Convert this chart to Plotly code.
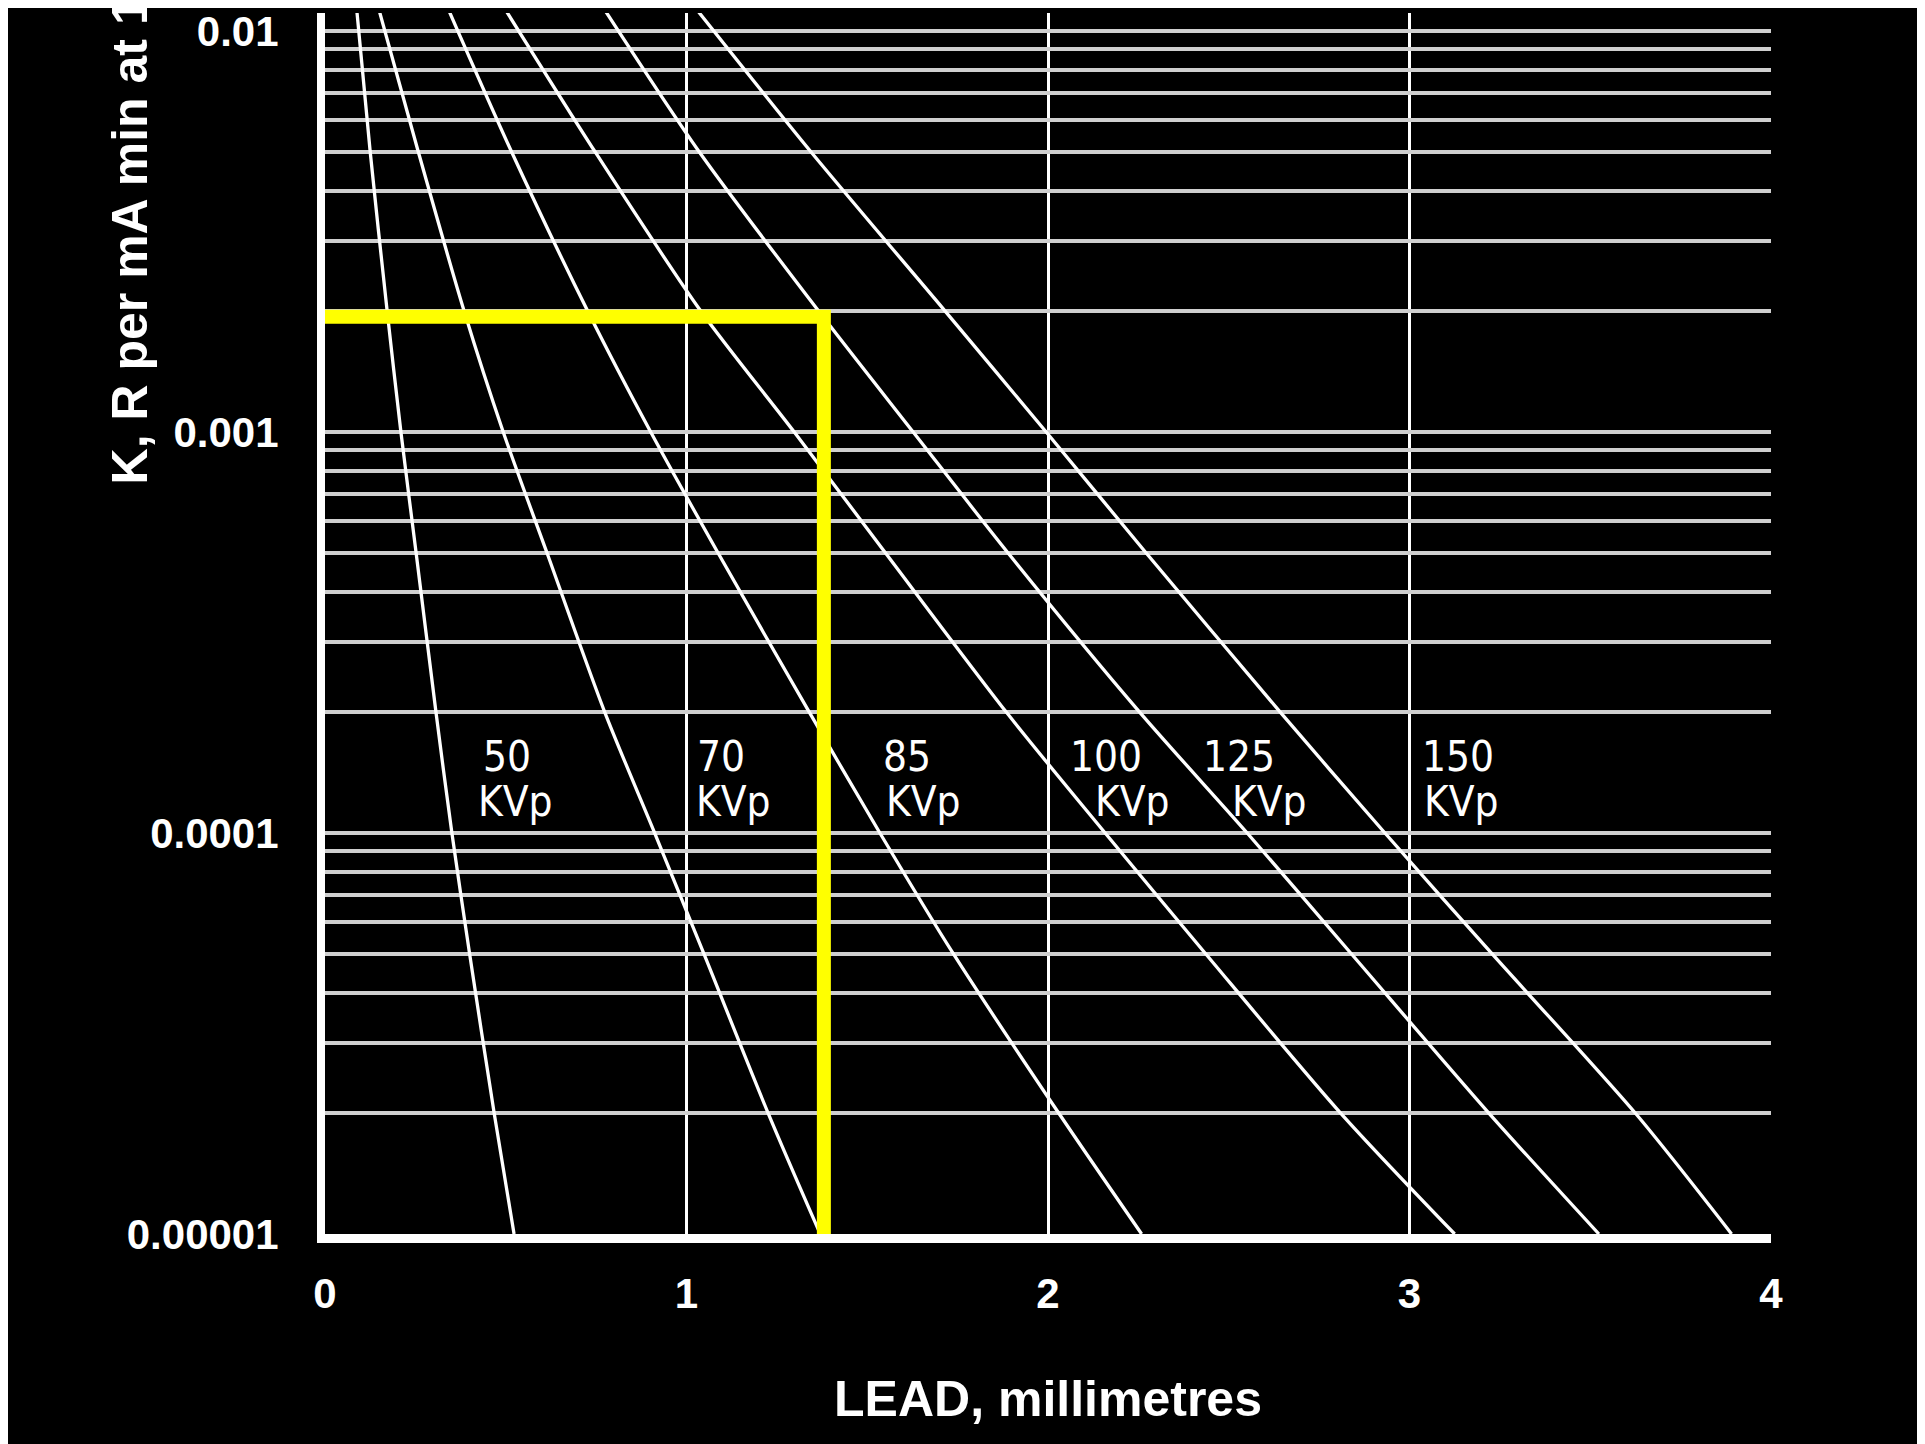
import math
import plotly.graph_objects as go

# ---- data ----
K_levels = [0.0115, 0.005, 0.002, 0.001, 0.0005, 0.0002, 0.0001, 0.00005, 0.00002, 0.00001]
lead_50 = [0.087, 0.125, 0.172, 0.210, 0.252, 0.307, 0.351, 0.400, 0.468, 0.523]
lead_70 = [0.147, 0.258, 0.385, 0.493, 0.614, 0.774, 0.912, 1.048, 1.226, 1.370]
lead_85 = [0.338, 0.516, 0.727, 0.901, 1.087, 1.340, 1.535, 1.738, 2.030, 2.259]
lead_100 = [0.494, 0.747, 1.040, 1.298, 1.550, 1.885, 2.158, 2.436, 2.810, 3.125]
lead_125 = [0.768, 1.035, 1.366, 1.627, 1.889, 2.254, 2.551, 2.839, 3.220, 3.524]
lead_150 = [1.022, 1.344, 1.716, 1.995, 2.271, 2.643, 2.932, 3.228, 3.625, 3.891]

kvp_names = ["50", "70", "85", "100", "125", "150"]
label_num_x = [0.432, 1.023, 1.539, 2.055, 2.423, 3.030]
label_kvp_x = [0.418, 1.020, 1.546, 2.124, 2.504, 3.034]
label_num_K = 1.556e-4
label_kvp_K = 1.197e-4

reading_x = [0.0, 1.38, 1.38]
reading_K = [0.00194, 0.00194, 0.00001]

x_tick_vals = [0, 1, 2, 3, 4]
y_major_vals = [0.00001, 0.0001, 0.001, 0.01]
y_major_text = ["0.00001", "0.0001", "0.001", "0.01"]

x_title = "LEAD, millimetres"
y_title = "K, R per mA min at 1 metre"

# ---- figure ----
curves = [lead_50, lead_70, lead_85, lead_100, lead_125, lead_150]

fig = go.Figure()
for name, xs in zip(kvp_names, curves):
    fig.add_trace(go.Scatter(
        x=xs, y=K_levels, mode="lines", name=name + " KVp",
        line=dict(color="white", width=3.3, shape="spline", smoothing=0.8),
        showlegend=False, hoverinfo="skip"))

fig.add_trace(go.Scatter(
    x=reading_x, y=reading_K, mode="lines",
    line=dict(color="#ffff00", width=14), showlegend=False, hoverinfo="skip"))

# gridline positions: every 1..9 x decade (labels only on the decades)
grid_vals = []
grid_text = []
for e in (-5, -4, -3):
    for m in range(1, 10):
        v = m * 10.0 ** e
        grid_vals.append(v)
        grid_text.append(y_major_text[y_major_vals.index(10.0 ** e)] if m == 1 else "")
grid_vals.append(0.01)
grid_text.append("0.01")

label_font = dict(family="DejaVu Sans Condensed, DejaVu Sans", size=42, color="white")
annotations = []
for name, xn, xk in zip(kvp_names, label_num_x, label_kvp_x):
    annotations.append(dict(x=xn, y=math.log10(label_num_K), xref="x", yref="y",
                            text=name, showarrow=False, xanchor="left", yanchor="middle",
                            font=label_font))
    annotations.append(dict(x=xk, y=math.log10(label_kvp_K), xref="x", yref="y",
                            text="KVp", showarrow=False, xanchor="left", yanchor="middle",
                            font=label_font))

annotations.append(dict(x=-0.1349, y=0.6126, xref="paper", yref="paper",
                        text=y_title, textangle=-90, showarrow=False,
                        xanchor="center", yanchor="bottom",
                        font=dict(family="Liberation Sans, Arial", size=50, color="white", weight="bold")))

tick_font = dict(family="Liberation Sans, Arial", size=42, color="white", weight="bold")

fig.update_layout(
    width=1925, height=1444,
    paper_bgcolor="black", plot_bgcolor="black",
    margin=dict(l=317, r=162, t=0, b=218),
    annotations=annotations,
    xaxis=dict(
        range=[0, 4], tickvals=x_tick_vals, ticktext=[str(v) for v in x_tick_vals],
        showgrid=True, gridcolor="white", gridwidth=2.5,
        showline=True, linecolor="white", linewidth=9,
        ticks="", ticklabelstandoff=15, zeroline=False,
        ticklabeloverflow="allow",
        tickfont=tick_font,
        title=dict(text=x_title, standoff=68,
                   font=dict(family="Liberation Sans, Arial", size=50, color="white", weight="bold")),
    ),
    yaxis=dict(
        type="log", range=[-5, -1.955],
        tickvals=grid_vals, ticktext=grid_text,
        showgrid=True, gridcolor="#cfcfcf", gridwidth=4,
        showline=True, linecolor="white", linewidth=8,
        ticks="", ticklabelstandoff=30, zeroline=False,
        ticklabeloverflow="allow",
        tickfont=tick_font,
    ),
)

fig.write_html("out.html")
